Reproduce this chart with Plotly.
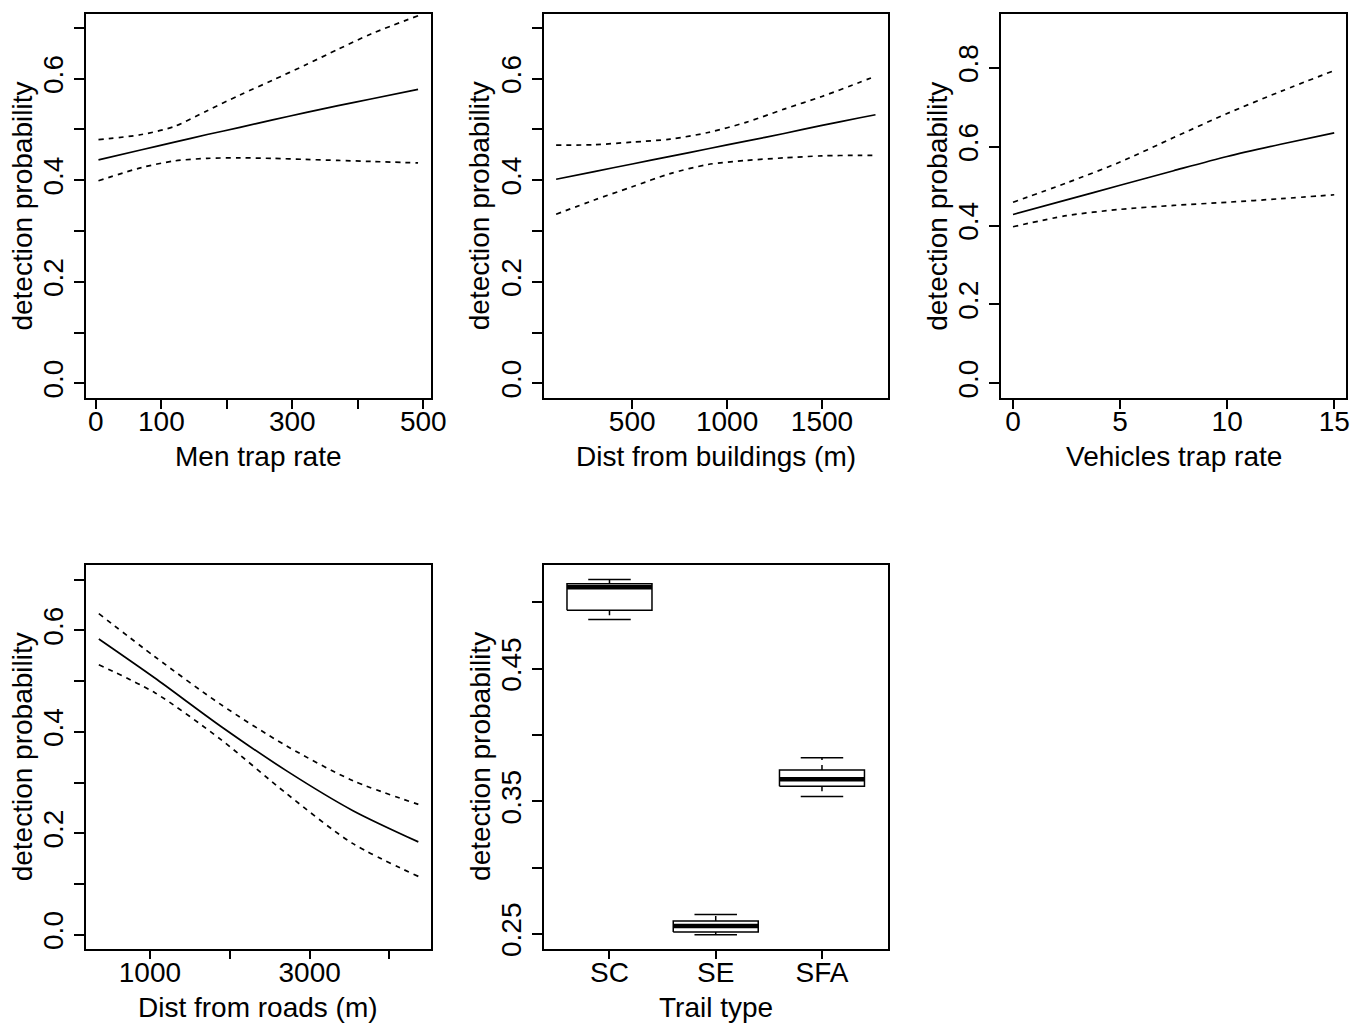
import plotly.graph_objects as go

# ---------------- data ----------------
men_x = [4, 70, 120, 170, 220, 270, 320, 370, 420, 492]
men_fit = [0.440, 0.460, 0.475, 0.490, 0.504, 0.519, 0.533, 0.547, 0.560, 0.579]
men_upr = [0.480, 0.490, 0.506, 0.537, 0.568, 0.597, 0.627, 0.658, 0.688, 0.724]
men_lwr = [0.399, 0.425, 0.438, 0.443, 0.444, 0.443, 0.441, 0.439, 0.437, 0.434]

bld_x = [99, 300, 500, 700, 900, 1100, 1300, 1500, 1700, 1782]
bld_fit = [0.402, 0.417, 0.432, 0.447, 0.462, 0.477, 0.492, 0.508, 0.523, 0.529]
bld_upr = [0.469, 0.470, 0.475, 0.481, 0.494, 0.514, 0.540, 0.565, 0.593, 0.605]
bld_lwr = [0.333, 0.361, 0.387, 0.413, 0.431, 0.439, 0.444, 0.448, 0.449, 0.449]

veh_x = [0, 2.5, 5, 7.5, 10, 12.5, 15]
veh_fit = [0.428, 0.465, 0.502, 0.539, 0.575, 0.606, 0.635]
veh_upr = [0.459, 0.508, 0.561, 0.623, 0.684, 0.740, 0.793]
veh_lwr = [0.397, 0.425, 0.441, 0.451, 0.459, 0.468, 0.478]

rd_x = [360, 1062, 1886, 2712, 3537, 4361]
rd_fit = [0.583, 0.506, 0.411, 0.323, 0.245, 0.183]
rd_upr = [0.633, 0.548, 0.454, 0.372, 0.304, 0.257]
rd_lwr = [0.532, 0.477, 0.385, 0.278, 0.180, 0.115]

trail_cats = ["SC", "SE", "SFA"]
trail_lowwhisk = [0.4872, 0.2495, 0.3537]
trail_q1 = [0.4941, 0.2515, 0.3615]
trail_med = [0.5114, 0.2560, 0.3667]
trail_q3 = [0.5141, 0.2597, 0.3737]
trail_upwhisk = [0.5173, 0.2647, 0.3829]

# tick definitions (blank label = R dropped overlapping label)
men_ticks = [0, 100, 200, 300, 400, 500]
men_ticklabels = ["0", "100", "", "300", "", "500"]
bld_ticks = [500, 1000, 1500]
bld_ticklabels = ["500", "1000", "1500"]
veh_ticks = [0, 5, 10, 15]
veh_ticklabels = ["0", "5", "10", "15"]
rd_ticks = [1000, 2000, 3000, 4000]
rd_ticklabels = ["1000", "", "3000", ""]
p7_ticks = [0.0, 0.1, 0.2, 0.3, 0.4, 0.5, 0.6, 0.7]
p7_ticklabels = ["0.0", "", "0.2", "", "0.4", "", "0.6", ""]
p9_ticks = [0.0, 0.2, 0.4, 0.6, 0.8]
p9_ticklabels = ["0.0", "0.2", "0.4", "0.6", "0.8"]
trail_yticks = [0.25, 0.30, 0.35, 0.40, 0.45, 0.50]
trail_yticklabels = ["0.25", "", "0.35", "", "0.45", ""]

xtitles = ["Men trap rate", "Dist from buildings (m)", "Vehicles trap rate",
           "Dist from roads (m)", "Trail type"]
ytitle = "detection probability"

# ---------------- layout geometry (page pixels) ----------------
W, H = 1368, 1030
panels_px = [  # (x0, x1, y0, y1) in page pixels from top-left
    (87, 436, 14, 401),
    (550, 899, 14, 401),
    (1013, 1362, 14, 401),
    (87, 436, 569, 956),
    (550, 899, 569, 956),
]
xcal = [(97, 0, 428.3, 500), (639.7, 500, 831.7, 1500), (1025, 0, 1350, 15),
        (151.7, 1000, 313.3, 3000), (616.7, 1, 831.7, 3)]
ycal = [(386.3, 0.0, 79.3, 0.6), (386.3, 0.0, 79.3, 0.6), (386.3, 0.0, 68.3, 0.8),
        (942, 0.0, 635.3, 0.6), (941.3, 0.25, 674, 0.45)]

def px_to_val(p, cal):
    pa, va, pb, vb = cal
    return va + (p - pa) * (vb - va) / (pb - pa)

xtickset = [(men_ticks, men_ticklabels), (bld_ticks, bld_ticklabels), (veh_ticks, veh_ticklabels),
            (rd_ticks, rd_ticklabels), ([1, 2, 3], trail_cats)]
ytickset = [(p7_ticks, p7_ticklabels), (p7_ticks, p7_ticklabels), (p9_ticks, p9_ticklabels),
            (p7_ticks, p7_ticklabels), (trail_yticks, trail_yticklabels)]

FONT = "Liberation Sans, Arial, Helvetica, sans-serif"
FS = 28

fig = go.Figure()

def add_curve(i, xs, fit, upr, lwr):
    ax = "" if i == 0 else str(i + 1)
    for ys, dash in ((fit, "solid"), (upr, "5px,5px"), (lwr, "5px,5px")):
        fig.add_trace(go.Scatter(x=xs, y=ys, mode="lines", xaxis="x" + ax, yaxis="y" + ax,
                                 line=dict(color="black", width=1.7, dash=dash, shape="spline", smoothing=0.8),
                                 showlegend=False, hoverinfo="skip"))

add_curve(0, men_x, men_fit, men_upr, men_lwr)
add_curve(1, bld_x, bld_fit, bld_upr, bld_lwr)
add_curve(2, veh_x, veh_fit, veh_upr, veh_lwr)
add_curve(3, rd_x, rd_fit, rd_upr, rd_lwr)

BOXW = 0.4
STAPLE = 0.2
for k, cat in enumerate(trail_cats):
    c = k + 1
    kw = dict(xaxis="x5", yaxis="y5", mode="lines", showlegend=False, hoverinfo="skip")
    fig.add_trace(go.Scatter(x=[c - BOXW, c + BOXW, c + BOXW, c - BOXW, c - BOXW],
                             y=[trail_q1[k], trail_q1[k], trail_q3[k], trail_q3[k], trail_q1[k]],
                             line=dict(color="black", width=1.5), **kw))
    fig.add_trace(go.Scatter(x=[c - BOXW, c + BOXW], y=[trail_med[k], trail_med[k]],
                             line=dict(color="black", width=4.5), **kw))
    fig.add_trace(go.Scatter(x=[c, c], y=[trail_q3[k], trail_upwhisk[k]],
                             line=dict(color="black", width=1.5, dash="5px,5px"), **kw))
    fig.add_trace(go.Scatter(x=[c, c], y=[trail_q1[k], trail_lowwhisk[k]],
                             line=dict(color="black", width=1.5, dash="5px,5px"), **kw))
    fig.add_trace(go.Scatter(x=[c - STAPLE, c + STAPLE], y=[trail_upwhisk[k], trail_upwhisk[k]],
                             line=dict(color="black", width=1.5), **kw))
    fig.add_trace(go.Scatter(x=[c - STAPLE, c + STAPLE], y=[trail_lowwhisk[k], trail_lowwhisk[k]],
                             line=dict(color="black", width=1.5), **kw))

layout = dict(width=W, height=H, margin=dict(l=0, r=0, t=0, b=0, pad=0),
              paper_bgcolor="white", plot_bgcolor="white", showlegend=False,
              font=dict(family=FONT, size=FS, color="black"))
annotations = []

def fx(p):
    return p / W

def fy(p):
    return 1 - p / H

for i, (x0, x1, y0, y1) in enumerate(panels_px):
    ax = "" if i == 0 else str(i + 1)
    xr = [px_to_val(x0, xcal[i]), px_to_val(x1, xcal[i])]
    yr = [px_to_val(y1, ycal[i]), px_to_val(y0, ycal[i])]
    layout["xaxis" + ax] = dict(
        domain=[fx(x0), fx(x1)], range=xr, anchor="y" + ax,
        showline=True, mirror=True, linecolor="black", linewidth=1.5,
        showgrid=False, zeroline=False, ticks="outside", ticklen=9, tickwidth=1.5,
        tickcolor="black", tickvals=xtickset[i][0], ticktext=xtickset[i][1],
        ticklabelstandoff=-11,
        tickfont=dict(family=FONT, size=FS), fixedrange=True)
    layout["yaxis" + ax] = dict(
        domain=[fy(y1), fy(y0)], range=yr, anchor="x" + ax,
        showline=True, mirror=True, linecolor="black", linewidth=1.5,
        showgrid=False, zeroline=False, ticks="outside", ticklen=10, tickwidth=1.5,
        tickcolor="black", tickvals=ytickset[i][0], ticktext=ytickset[i][1],
        tickangle=-90, tickfont=dict(family=FONT, size=FS), fixedrange=True)
    annotations.append(dict(text=xtitles[i], x=fx((x0 + x1) / 2), y=fy(y1 + 59),
                            xref="paper", yref="paper", showarrow=False,
                            xanchor="center", yanchor="middle",
                            font=dict(family=FONT, size=FS)))
    annotations.append(dict(text=ytitle, x=fx(x0 - 64), y=fy((y0 + y1) / 2),
                            xref="paper", yref="paper", showarrow=False, textangle=-90,
                            xanchor="center", yanchor="middle",
                            font=dict(family=FONT, size=FS)))
layout["annotations"] = annotations
fig.update_layout(**layout)

page_css = ("document.body.style.margin='0';"
            "document.documentElement.style.overflow='hidden';"
            "document.body.style.overflow='hidden';")
fig.write_html("out.html", config={"displayModeBar": False}, post_script=page_css)
